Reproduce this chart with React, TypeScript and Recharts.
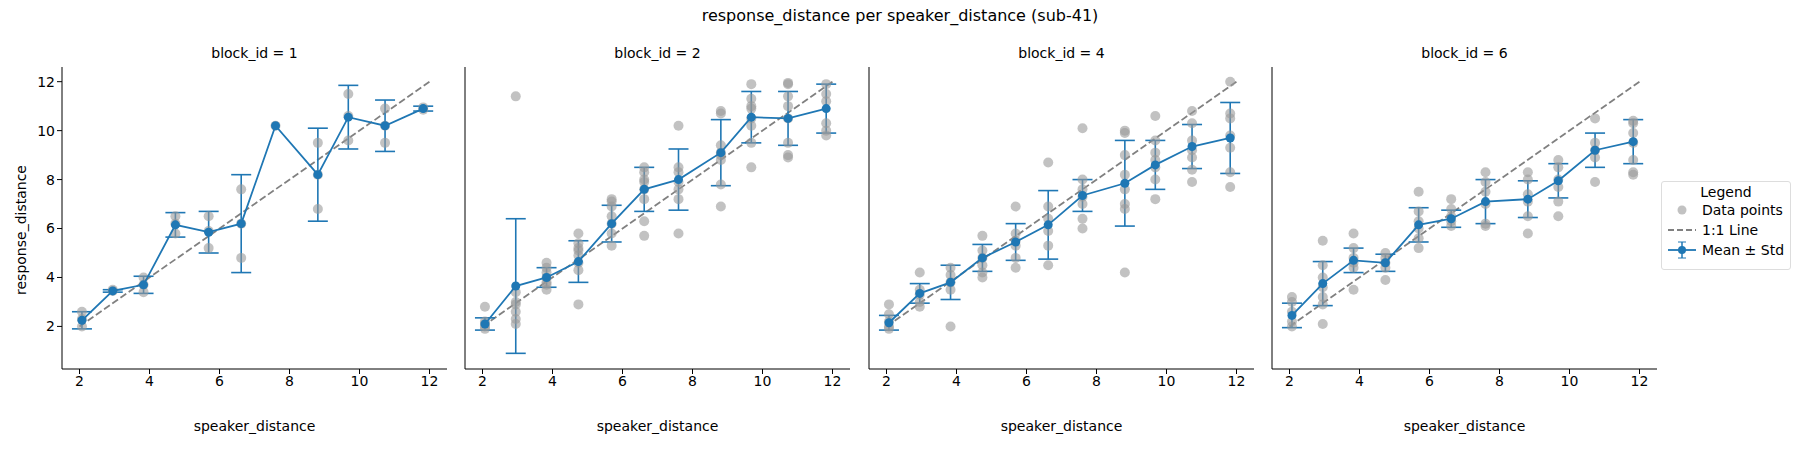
import { ComposedChart, Scatter, Line, XAxis, YAxis, ErrorBar } from 'recharts';

const distances = [2.07, 2.95, 3.83, 4.74, 5.69, 6.62, 7.6, 8.81, 9.68, 10.73, 11.82];
const blockIds = [1, 2, 4, 6];

const means = [
  [2.25, 3.45, 3.7, 6.15, 5.85, 6.2, 10.2, 8.2, 10.55, 10.2, 10.9],
  [2.1, 3.65, 4.0, 4.65, 6.2, 7.6, 8.0, 9.1, 10.55, 10.5, 10.9],
  [2.15, 3.35, 3.8, 4.8, 5.45, 6.15, 7.35, 7.85, 8.6, 9.35, 9.7],
  [2.45, 3.75, 4.7, 4.6, 6.15, 6.4, 7.1, 7.2, 7.95, 9.2, 9.55],
];
const stds = [
  [0.35, 0.05, 0.35, 0.5, 0.85, 2.0, 0, 1.9, 1.3, 1.05, 0.1],
  [0.25, 2.75, 0.4, 0.85, 0.75, 0.9, 1.25, 1.35, 1.05, 1.1, 1.0],
  [0.3, 0.4, 0.7, 0.55, 0.75, 1.4, 0.65, 1.75, 1.0, 0.9, 1.45],
  [0.5, 0.9, 0.5, 0.35, 0.7, 0.35, 0.9, 0.75, 0.7, 0.7, 0.9],
];
const points = [
  [[2.0, 2.3, 2.6], [3.45, 3.5], [3.4, 3.7, 4.0], [5.8, 6.2, 6.5], [5.2, 5.9, 6.5], [4.8, 6.2, 7.6], [10.2], [6.8, 8.2, 9.5], [9.6, 10.6, 11.5], [9.5, 10.2, 10.9], [10.85, 10.95]],
  [[2.8, 2.1, 1.9, 2.0, 2.2], [11.4, 3.0, 2.6, 2.3, 2.1, 3.4, 2.9], [4.6, 4.4, 4.0, 3.8, 3.5, 3.7, 4.2], [5.8, 5.4, 5.1, 4.9, 4.6, 4.3, 2.9, 5.2], [7.2, 7.1, 6.5, 6.2, 5.8, 5.3, 6.9], [8.5, 8.3, 8.0, 7.6, 7.2, 6.3, 5.7, 7.9], [10.2, 8.5, 8.3, 7.9, 7.6, 7.2, 5.8], [10.8, 10.7, 9.4, 9.0, 8.8, 7.8, 6.9, 9.1], [11.9, 11.3, 10.9, 10.5, 10.2, 9.5, 8.5, 11.0], [11.95, 11.9, 11.4, 11.0, 10.5, 9.5, 9.0, 8.9], [11.9, 11.2, 10.3, 10.0, 9.8, 11.5]],
  [[2.9, 2.5, 2.2, 2.0, 1.9], [4.2, 3.5, 3.3, 3.0, 2.8], [4.4, 4.1, 3.8, 3.5, 2.0], [5.7, 5.1, 4.8, 4.5, 4.2, 4.0], [6.9, 5.8, 5.5, 5.3, 4.8, 4.4], [8.7, 6.9, 6.4, 5.9, 5.3, 4.5], [10.1, 8.0, 7.6, 7.3, 7.0, 6.4, 6.0], [10.0, 9.9, 9.0, 8.2, 7.6, 7.0, 6.8, 4.2], [10.6, 9.6, 9.1, 8.8, 8.5, 8.0, 7.2], [10.8, 10.3, 9.6, 9.2, 8.9, 8.4, 7.9], [12.0, 10.7, 10.5, 9.8, 9.3, 8.3, 7.7]],
  [[3.2, 3.0, 2.6, 2.2, 2.0], [5.5, 4.5, 4.0, 3.6, 3.2, 2.9, 2.1], [5.8, 5.2, 4.8, 4.6, 4.4, 3.5], [5.0, 4.8, 4.6, 4.4, 3.9], [7.5, 6.7, 6.3, 6.0, 5.6, 5.2], [7.2, 6.8, 6.5, 6.3, 6.1], [8.3, 7.9, 7.5, 7.0, 6.2, 6.1], [8.3, 8.0, 7.4, 7.1, 6.5, 5.8], [8.8, 8.5, 8.0, 7.7, 7.1, 6.5], [10.5, 9.5, 9.2, 8.9, 7.9], [10.4, 10.3, 9.9, 9.5, 8.8, 8.3, 8.2]],
];
const identity = [{ x: 2, y: 2 }, { x: 12, y: 12 }];
const xTicks = [2, 4, 6, 8, 10, 12];
const yTicks = [2, 4, 6, 8, 10, 12];

const BLUE = '#1f77b4';
const font = 'DejaVu Sans, sans-serif';
const plotLefts = [62, 465, 869, 1272];
const PLOT_W = 385;
const PLOT_H = 326;
const PLOT_TOP = 67;
const AXIS_W = 44;

function Panel({ idx }: { idx: number }) {
  const pts = points[idx].flatMap((ys, i) => ys.map((y) => ({ x: distances[i], y })));
  const meanData = distances.map((x, i) => ({ x, y: means[idx][i], err: stds[idx][i] }));
  const tick = { fontSize: 14, fill: '#000', fontFamily: font };
  return (
    <div style={{ position: 'absolute', left: plotLefts[idx] - AXIS_W, top: PLOT_TOP }}>
      <ComposedChart width={AXIS_W + PLOT_W + 2} height={PLOT_H + 30} margin={{ top: 0, right: 2, left: 0, bottom: 30 }}>
        <XAxis type="number" dataKey="x" domain={[1.5, 12.5]} ticks={xTicks} tick={tick} stroke="#000" tickSize={5} height={24} allowDuplicatedCategory={false} />
        <YAxis type="number" dataKey="y" domain={[0.26, 12.6]} ticks={yTicks} tick={idx === 0 ? tick : false} stroke="#000" tickSize={5} width={AXIS_W} />
        <Scatter data={pts} fill="#999" isAnimationActive={false} shape={(p: any) => <circle cx={p.cx} cy={p.cy} r={5} fill="#999" fillOpacity={0.6} />} />
        <Line data={identity} dataKey="y" stroke="#808080" strokeWidth={1.8} strokeDasharray="7 3" dot={false} isAnimationActive={false} />
        <Scatter data={meanData} fill={BLUE} line={{ stroke: BLUE, strokeWidth: 1.8 }} isAnimationActive={false} shape={(p: any) => <circle cx={p.cx} cy={p.cy} r={4.5} fill={BLUE} />}>
          <ErrorBar dataKey="err" direction="y" stroke={BLUE} strokeWidth={1.6} width={10} />
        </Scatter>
      </ComposedChart>
      <div style={{ position: 'absolute', left: AXIS_W, width: PLOT_W, top: -22, textAlign: 'center', fontSize: 14, fontFamily: font }}>block_id = {blockIds[idx]}</div>
      <div style={{ position: 'absolute', left: AXIS_W, width: PLOT_W, top: 351, textAlign: 'center', fontSize: 14, fontFamily: font }}>speaker_distance</div>
    </div>
  );
}

export default function App() {
  return (
    <div style={{ position: 'relative', width: 1800, height: 450, margin: -8, background: '#fff', fontFamily: font }}>
      <div style={{ position: 'absolute', left: 0, width: 1800, top: 6, textAlign: 'center', fontSize: 16 }}>response_distance per speaker_distance (sub-41)</div>
      <div style={{ position: 'absolute', left: 21, top: 230, fontSize: 14, transform: 'translate(-50%, -50%) rotate(-90deg)', whiteSpace: 'nowrap' }}>response_distance</div>
      {blockIds.map((_, i) => <Panel key={i} idx={i} />)}
      <div style={{ position: 'absolute', left: 1661, top: 181, width: 128, height: 87, border: '1px solid #ddd', borderRadius: 3, fontSize: 14 }}>
        <div style={{ textAlign: 'center', marginTop: 2 }}>Legend</div>
        <div style={{ display: 'flex', alignItems: 'center', height: 20 }}>
          <svg width={40} height={12}><circle cx={20} cy={6} r={4.5} fill="#999" fillOpacity={0.6} /></svg>Data points
        </div>
        <div style={{ display: 'flex', alignItems: 'center', height: 20 }}>
          <svg width={40} height={12}><line x1={6} x2={34} y1={6} y2={6} stroke="#808080" strokeWidth={1.8} strokeDasharray="6 3" /></svg>1:1 Line
        </div>
        <div style={{ display: 'flex', alignItems: 'center', height: 20 }}>
          <svg width={40} height={18}><line x1={6} x2={34} y1={9} y2={9} stroke={BLUE} strokeWidth={1.8} /><line x1={20} x2={20} y1={1} y2={17} stroke={BLUE} strokeWidth={1.5} /><line x1={16} x2={24} y1={1} y2={1} stroke={BLUE} /><line x1={16} x2={24} y1={17} y2={17} stroke={BLUE} /><circle cx={20} cy={9} r={4} fill={BLUE} /></svg>Mean ± Std
        </div>
      </div>
    </div>
  );
}
